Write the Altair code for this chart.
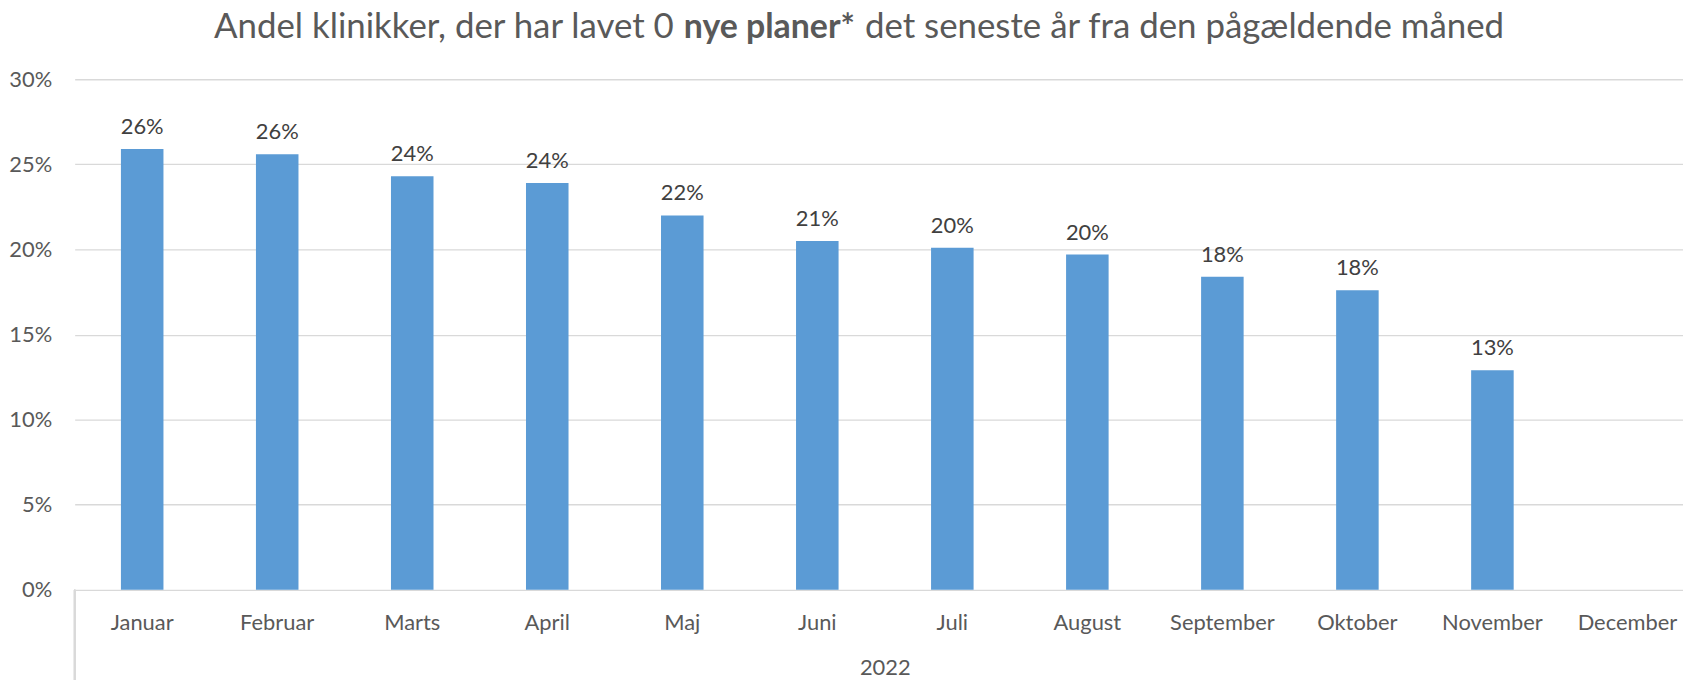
import altair as alt
import pandas as pd

months = ["Januar", "Februar", "Marts", "April", "Maj", "Juni", "Juli",
          "August", "September", "Oktober", "November", "December"]
values = [0.259, 0.256, 0.243, 0.239, 0.220, 0.205, 0.201, 0.197, 0.184, 0.176, 0.129, None]
year_label = "2022"
title_parts = ["Andel klinikker, der har lavet 0", "nye planer*", "det seneste år fra den pågældende måned"]
y_ticks = [0, 0.05, 0.10, 0.15, 0.20, 0.25, 0.30]

df = pd.DataFrame({"month": months, "value": values})

FONT = "Lato"
W, H = 1616, 513
BAND_RANGE = 1628

x = alt.X("month:N", sort=months,
          scale=alt.Scale(range=[0, BAND_RANGE], paddingInner=0.685, paddingOuter=0.3425, round=False),
          axis=alt.Axis(title=year_label, labelAngle=0, ticks=False, domain=False, grid=False,
                        labelFont=FONT, labelFontSize=22, labelColor="#595959", labelPadding=23,
                        titleFont=FONT, titleFontSize=22, titleFontWeight="normal", titleColor="#595959",
                        titleX=BAND_RANGE / 2, titleY=85, titleBaseline="alphabetic", titleAlign="center",
                        titleAnchor="start"))
y = alt.Y("value:Q", scale=alt.Scale(domain=[0, 0.30], nice=False),
          axis=alt.Axis(title=None, values=y_ticks, format=".0%", ticks=False, domain=False, grid=True,
                        labelFont=FONT, labelFontSize=22, labelColor="#595959", labelPadding=23,
                        gridColor="#d9d9d9", gridWidth=1.3))

base = alt.Chart(df)
bars = base.mark_bar(color="#5B9BD5").encode(x=x, y=y)
labels = base.transform_filter("datum.value != null").mark_text(
    font=FONT, fontSize=22, color="#404040", baseline="alphabetic", dy=-15
).encode(x=alt.X("month:N", sort=months), y="value:Q", text=alt.Text("value:Q", format=".0%"))

sep = alt.Chart(df).mark_rule(color="#d9d9d9", strokeWidth=1.5).encode(
    x=alt.value(0), y=alt.value(H), y2=alt.value(H + 110))

tdf = pd.DataFrame({"t": [0]})
t1 = alt.Chart(tdf).mark_text(font=FONT, fontSize=35, color="#595959", align="right",
                              baseline="alphabetic").encode(
    x=alt.value(602), y=alt.value(-41), text=alt.value(title_parts[0]))
t2 = alt.Chart(tdf).mark_text(font=FONT, fontSize=34, color="#595959", align="left",
                              baseline="alphabetic", fontWeight="bold").encode(
    x=alt.value(612), y=alt.value(-41), text=alt.value(title_parts[1]))
t3 = alt.Chart(tdf).mark_text(font=FONT, fontSize=35, color="#595959", align="left",
                              baseline="alphabetic").encode(
    x=alt.value(794), y=alt.value(-41), text=alt.value(title_parts[2]))

chart = alt.layer(bars, labels, sep, t1, t2, t3).properties(
    width=W, height=H,
    autosize=alt.AutoSizeParams(type="none"),
    padding={"left": 67, "top": 70, "right": 0, "bottom": 89},
).configure_view(stroke=None)

chart.save("out.html", embed_options={"renderer": "svg", "actions": False})
